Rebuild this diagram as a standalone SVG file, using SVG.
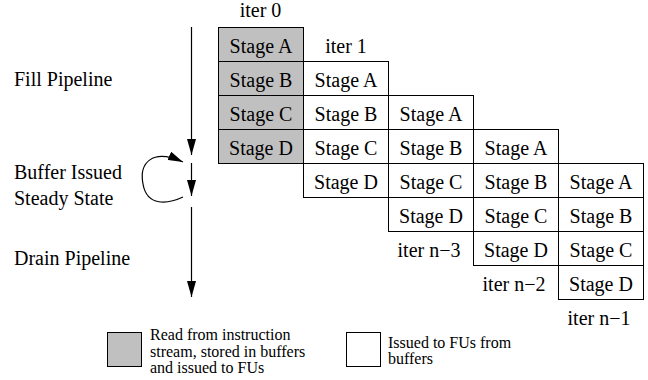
<svg xmlns="http://www.w3.org/2000/svg" width="648" height="380" viewBox="0 0 648 380">
<style>
.t{font-family:"Liberation Serif","Times New Roman",serif;font-size:20px;fill:#000}
.c{text-anchor:middle}
.lg{font-family:"Liberation Serif","Times New Roman",serif;font-size:16px;fill:#000}
.cell{fill:#fff;stroke:#000;stroke-width:1}
.g{fill:#c0c0c0}
.ln{fill:none;stroke:#000;stroke-width:1.2}
</style>
<defs>
<marker id="ah" markerUnits="userSpaceOnUse" markerWidth="16" markerHeight="9" refX="16" refY="4.5" orient="auto">
<path d="M0,0 L16,4.5 L0,9 z" fill="#000"/>
</marker>
<marker id="ah2" markerUnits="userSpaceOnUse" markerWidth="15" markerHeight="9" refX="15" refY="4.5" orient="auto">
<path d="M0,0 L15,4.5 L0,9 z" fill="#000"/>
</marker>
</defs>
<rect width="648" height="380" fill="#fff"/>

<g id="labels-left">
<text class="t" x="14" y="86">Fill Pipeline</text>
<text class="t" x="14" y="179">Buffer Issued</text>
<text class="t" x="14" y="205">Steady State</text>
<text class="t" x="14" y="265">Drain Pipeline</text>
</g>

<g id="connectors">
<line class="ln" x1="191.5" y1="27" x2="191.5" y2="155" marker-end="url(#ah)"/>
<line class="ln" x1="191.5" y1="163" x2="191.5" y2="196" marker-end="url(#ah)"/>
<line class="ln" x1="191.5" y1="207" x2="191.5" y2="297" marker-end="url(#ah)"/>
<path class="ln" d="M183,197 C168,204 147,207 143,184 C139,163 152,148 183,162" marker-end="url(#ah2)"/>
</g>

<g id="iter0">
<text class="t c" x="260.5" y="17">iter 0</text>
<rect class="cell g" x="218.5" y="27.5" width="85" height="34"/>
<rect class="cell g" x="218.5" y="61.5" width="85" height="34"/>
<rect class="cell g" x="218.5" y="95.5" width="85" height="34"/>
<rect class="cell g" x="218.5" y="129.5" width="85" height="34"/>
<text class="t c" x="261" y="52.5">Stage A</text>
<text class="t c" x="261" y="86.5">Stage B</text>
<text class="t c" x="261" y="120.5">Stage C</text>
<text class="t c" x="261" y="154.5">Stage D</text>
</g>

<g id="iter1">
<text class="t c" x="346" y="52.5">iter 1</text>
<rect class="cell" x="303.5" y="61.5" width="85" height="34"/>
<rect class="cell" x="303.5" y="95.5" width="85" height="34"/>
<rect class="cell" x="303.5" y="129.5" width="85" height="34"/>
<rect class="cell" x="303.5" y="163.5" width="85" height="34"/>
<text class="t c" x="346" y="86.5">Stage A</text>
<text class="t c" x="346" y="120.5">Stage B</text>
<text class="t c" x="346" y="154.5">Stage C</text>
<text class="t c" x="346" y="188.5">Stage D</text>
</g>

<g id="iter-n3">
<rect class="cell" x="388.5" y="95.5" width="85" height="34"/>
<rect class="cell" x="388.5" y="129.5" width="85" height="34"/>
<rect class="cell" x="388.5" y="163.5" width="85" height="34"/>
<rect class="cell" x="388.5" y="197.5" width="85" height="34"/>
<text class="t c" x="431" y="120.5">Stage A</text>
<text class="t c" x="431" y="154.5">Stage B</text>
<text class="t c" x="431" y="188.5">Stage C</text>
<text class="t c" x="431" y="222.5">Stage D</text>
<text class="t c" x="429" y="256.5">iter n−3</text>
</g>

<g id="iter-n2">
<rect class="cell" x="473.5" y="129.5" width="85" height="34"/>
<rect class="cell" x="473.5" y="163.5" width="85" height="34"/>
<rect class="cell" x="473.5" y="197.5" width="85" height="34"/>
<rect class="cell" x="473.5" y="231.5" width="85" height="34"/>
<text class="t c" x="516" y="154.5">Stage A</text>
<text class="t c" x="516" y="188.5">Stage B</text>
<text class="t c" x="516" y="222.5">Stage C</text>
<text class="t c" x="516" y="256.5">Stage D</text>
<text class="t c" x="514" y="290.5">iter n−2</text>
</g>

<g id="iter-n1">
<rect class="cell" x="558.5" y="163.5" width="85" height="34"/>
<rect class="cell" x="558.5" y="197.5" width="85" height="34"/>
<rect class="cell" x="558.5" y="231.5" width="85" height="34"/>
<rect class="cell" x="558.5" y="265.5" width="85" height="34"/>
<text class="t c" x="601" y="188.5">Stage A</text>
<text class="t c" x="601" y="222.5">Stage B</text>
<text class="t c" x="601" y="256.5">Stage C</text>
<text class="t c" x="601" y="290.5">Stage D</text>
<text class="t c" x="599" y="325">iter n−1</text>
</g>

<g id="legend-buffered">
<rect class="cell g" x="107.5" y="332.5" width="34" height="34"/>
<text class="lg" x="150" y="340"><tspan x="150" y="340">Read from instruction</tspan><tspan x="150" y="356.5">stream, stored in buffers</tspan><tspan x="150" y="373">and issued to FUs</tspan></text>
</g>

<g id="legend-issued">
<rect class="cell" x="346.5" y="332.5" width="34" height="34"/>
<text class="lg" x="388" y="347.5"><tspan x="388" y="347.5">Issued to FUs from</tspan><tspan x="388" y="364">buffers</tspan></text>
</g>
</svg>
